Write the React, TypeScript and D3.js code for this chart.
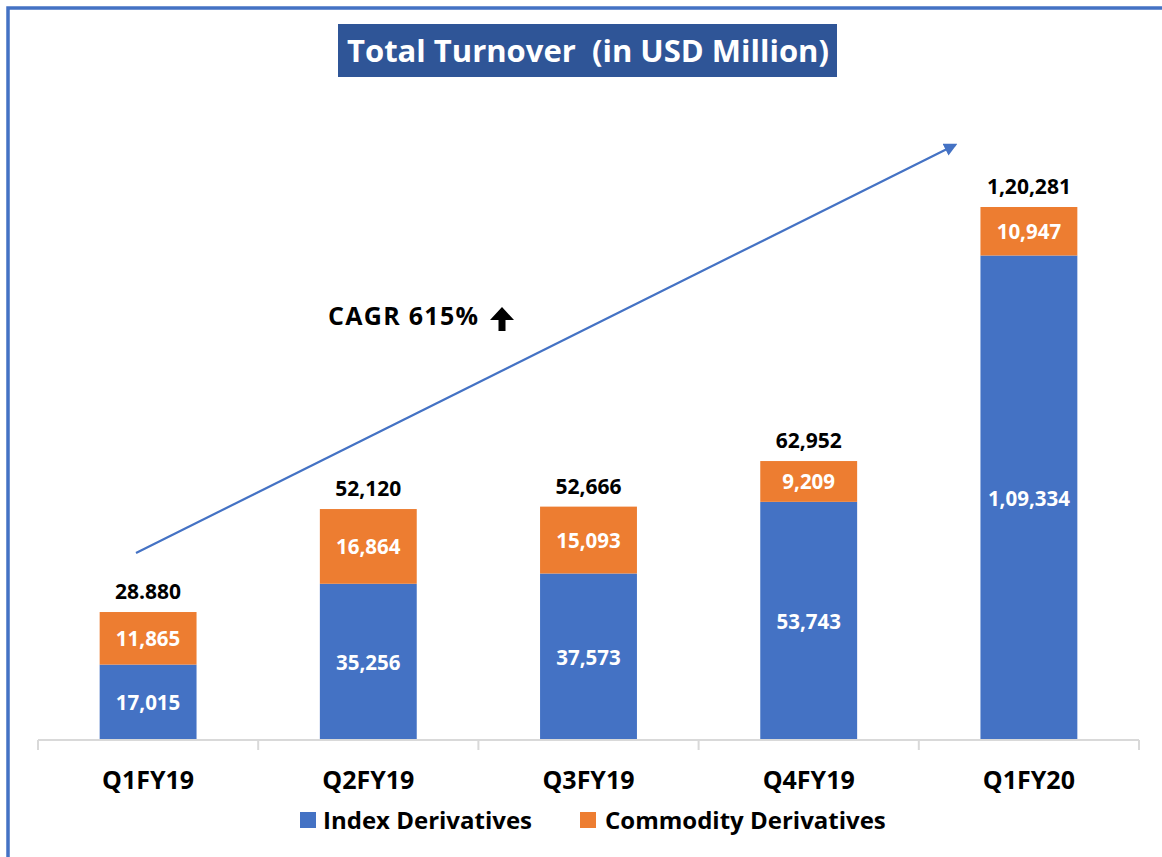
import React, { useEffect } from "react";
import * as d3 from "d3";

const quarters = ["Q1FY19", "Q2FY19", "Q3FY19", "Q4FY19", "Q1FY20"];
const indexDerivatives = [17015, 35256, 37573, 53743, 109334];
const commodityDerivatives = [11865, 16864, 15093, 9209, 10947];
const totals = [28880, 52120, 52666, 62952, 120281];
const indexLabels = ["17,015", "35,256", "37,573", "53,743", "1,09,334"];
const commodityLabels = ["11,865", "16,864", "15,093", "9,209", "10,947"];
const totalLabels = ["28.880", "52,120", "52,666", "62,952", "1,20,281"];

const BLUE = "#4472C4";
const ORANGE = "#ED7D31";
const FONT = "'Open Sans', Lato, sans-serif";

export default function App() {
  useEffect(() => {
    document.body.style.margin = "0";
  }, []);

  const width = 1162;
  const height = 857;
  const margin = { left: 38, right: 23, baseline: 740, top: 207 };

  // Scales
  const x = d3
    .scaleBand()
    .domain(quarters)
    .range([margin.left, width - margin.right])
    .paddingInner(0.56)
    .paddingOuter(0.28);
  const band = d3.scaleBand().domain(quarters).range([margin.left, width - margin.right]);
  const y = d3
    .scaleLinear()
    .domain([0, d3.max(totals)])
    .range([margin.baseline, margin.top]);

  const stack = d3.stack().keys(["index", "commodity"]);
  const rows = quarters.map((q, i) => ({
    q,
    index: indexDerivatives[i],
    commodity: commodityDerivatives[i],
  }));
  const series = stack(rows as any);
  const colors = [BLUE, ORANGE];
  const segLabels = [indexLabels, commodityLabels];

  return (
    <svg width={width} height={height} style={{ display: "block", fontFamily: FONT }}>
      <rect x={0} y={0} width={width} height={height} fill="#fff" />
      {/* frame */}
      <path d={`M8,${height} L8,8 L${width},8`} fill="none" stroke={BLUE} strokeWidth={3.5} />

      {/* title */}
      <rect x={338} y={24} width={499} height={53} fill="#2F5597" />
      <text x={588} y={62} textAnchor="middle" fill="#fff" fontSize={31} fontWeight={700} style={{ whiteSpace: "pre" }}>
        Total Turnover  (in USD Million)
      </text>

      {/* bars */}
      {series.map((s, si) =>
        s.map((d, i) => {
          const x0 = x(quarters[i])!;
          const y0 = y(d[1]);
          const y1 = y(d[0]);
          return (
            <g key={`${si}-${i}`}>
              <rect x={x0} y={y0} width={x.bandwidth()} height={y1 - y0} fill={colors[si]} />
              <text
                x={x0 + x.bandwidth() / 2}
                y={(y0 + y1) / 2 + 8}
                textAnchor="middle"
                fill="#fff"
                fontSize={20.5}
                fontWeight={700}
              >
                {segLabels[si][i]}
              </text>
            </g>
          );
        })
      )}

      {/* totals */}
      {totals.map((t, i) => (
        <text
          key={i}
          x={x(quarters[i])! + x.bandwidth() / 2}
          y={y(t) - 13}
          textAnchor="middle"
          fill="#000"
          fontSize={21}
          fontWeight={700}
        >
          {totalLabels[i]}
        </text>
      ))}

      {/* axis */}
      <line x1={margin.left} x2={width - margin.right} y1={margin.baseline} y2={margin.baseline} stroke="#D9D9D9" strokeWidth={2} />
      {[...quarters.map((q) => band(q)!), width - margin.right].map((tx, i) => (
        <line key={i} x1={tx} x2={tx} y1={margin.baseline} y2={margin.baseline + 10} stroke="#D9D9D9" strokeWidth={2} />
      ))}
      {quarters.map((q) => (
        <text
          key={q}
          x={band(q)! + band.bandwidth() / 2}
          y={789}
          textAnchor="middle"
          fontSize={25}
          fontWeight={700}
          fill="#000"
        >
          {q}
        </text>
      ))}

      {/* legend */}
      <rect x={300} y={812} width={16} height={16} fill={BLUE} />
      <text x={323} y={829} fontSize={24} fontWeight={700} fill="#000">Index Derivatives</text>
      <rect x={580} y={812} width={16} height={16} fill={ORANGE} />
      <text x={605} y={829} fontSize={24} fontWeight={700} fill="#000">Commodity Derivatives</text>

      {/* growth arrow */}
      <defs>
        <marker id="ah" viewBox="0 0 10 10" refX={8} refY={5} markerWidth={6} markerHeight={6} orient="auto">
          <path d="M0,0 L10,5 L0,10 z" fill={BLUE} />
        </marker>
      </defs>
      <line x1={136} y1={553} x2={955} y2={145} stroke={BLUE} strokeWidth={2.2} markerEnd="url(#ah)" />

      {/* CAGR */}
      <text x={328} y={325} fontSize={25} fontWeight={700} letterSpacing={1.3} fill="#000">CAGR 615%</text>
      <path d="M502,307 L514,320 L505.5,320 L505.5,331 L498.5,331 L498.5,320 L490,320 Z" fill="#000" />
    </svg>
  );
}
